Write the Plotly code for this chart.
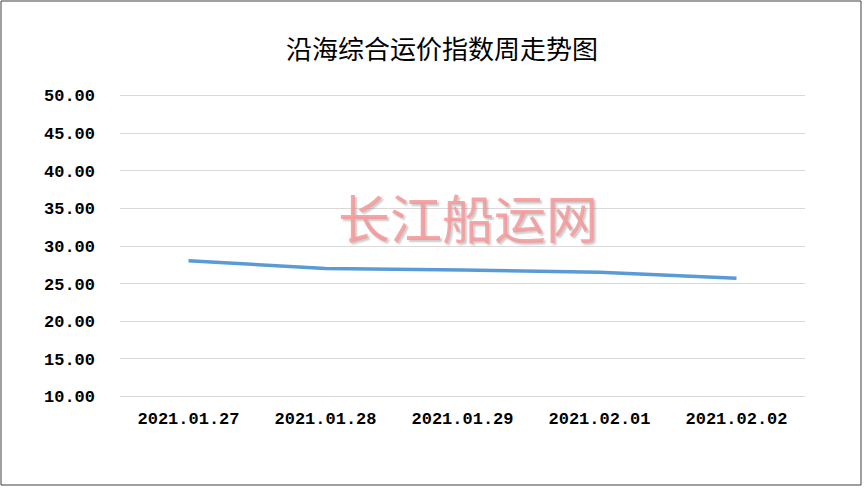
import plotly.graph_objects as go

categories = ["2021.01.27", "2021.01.28", "2021.01.29", "2021.02.01", "2021.02.02"]
values = [28.05, 27.0, 26.8, 26.5, 25.7]
y_ticks = [10, 15, 20, 25, 30, 35, 40, 45, 50]
y_tick_labels = ["%.2f" % v for v in y_ticks]

W, H = 864, 489
ml, mr, mt, mb = 120, 59, 94, 91
pw, ph = W - ml - mr, H - mt - mb

fig = go.Figure()
fig.add_trace(go.Scatter(
    x=categories, y=values, mode="lines",
    line=dict(color="#5b9bd5", width=3.5, shape="linear"),
    hoverinfo="x+y", showlegend=False,
))

tick_font = dict(family="Liberation Mono, DejaVu Sans Mono, monospace", size=17,
                 color="#000000", weight="bold")

fig.update_layout(
    width=W, height=H,
    margin=dict(l=ml, r=mr, t=mt, b=mb),
    paper_bgcolor="white", plot_bgcolor="white",
    title=dict(text="沿海综合运价指数周走势图", x=(442 - ml) / pw, xref="paper", xanchor="center",
               y=1 - 50 / H, yanchor="middle",
               font=dict(family="Noto Sans CJK SC", size=26, color="#000000")),
    xaxis=dict(type="category", showgrid=False, zeroline=False, showline=False,
               ticks="", tickfont=tick_font, range=[-0.5, 4.5], ticklabelstandoff=8),
    yaxis=dict(range=[9.8, 50.2], tickvals=y_ticks, ticktext=y_tick_labels,
               showgrid=True, gridcolor="#d9d9d9", gridwidth=1, zeroline=False,
               showline=False, ticks="", tickfont=tick_font, ticklabelstandoff=24),
)

# Outer chart border
fig.add_shape(type="rect", xref="paper", yref="paper",
              x0=(1 - ml) / pw, x1=(861 - ml) / pw,
              y0=-(485 - (mt + ph)) / ph, y1=(mt + ph - 1) / ph,
              line=dict(color="#404040", width=1), fillcolor="rgba(0,0,0,0)", layer="below")

# Watermark
wm_x = (468 - ml) / pw
wm_y = (mt + ph - 216) / ph
fig.add_annotation(text="长江船运网", xref="paper", yref="paper", x=wm_x, y=wm_y,
                   showarrow=False,
                   font=dict(family="Noto Sans CJK SC", size=52, color="rgba(245,150,150,0.85)",
                             shadow="2px 2px 2px rgba(120,120,120,0.45)"))

fig.write_html("out.html", config={"displayModeBar": False},
               post_script="document.body.style.margin='0';")
